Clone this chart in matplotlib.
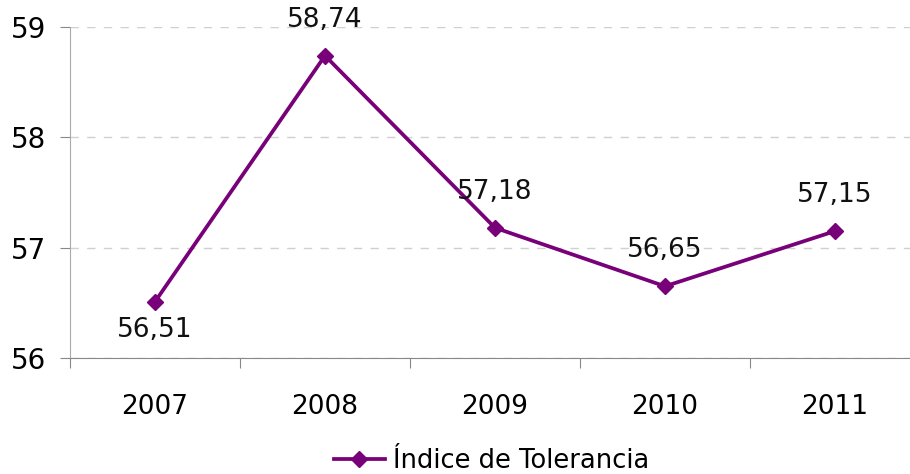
import matplotlib.pyplot as plt
from matplotlib.lines import Line2D

years = ['2007', '2008', '2009', '2010', '2011']
values = [56.51, 58.74, 57.18, 56.65, 57.15]
labels = ['56,51', '58,74', '57,18', '56,65', '57,15']
color = '#780078'

fig = plt.figure(figsize=(9.1, 4.74), dpi=100)
ax = fig.add_axes([70/910, 116/474, 850/910, 331/474])

x = list(range(len(years)))
ax.plot(x, values, color=color, lw=2.7, marker='D', markersize=8.5, zorder=3)

for i, (v, t) in enumerate(zip(values, labels)):
    dy = -20 if i == 0 else 26
    ax.annotate(t, (i, v), xytext=(0, dy), textcoords='offset points',
                ha='center', va='center', fontsize=19, color='#111111')

ax.set_xlim(-0.5, 4.5)
ax.set_ylim(56, 59)
ax.set_yticks([56, 57, 58, 59])
ax.set_xticks([-0.5, 0.5, 1.5, 2.5, 3.5, 4.5], minor=False)
ax.set_xticklabels([])
ax.set_xticks(x, minor=True)
ax.set_xticklabels(years, minor=True)
ax.tick_params(axis='x', which='minor', length=0, labelsize=19, pad=26)
ax.tick_params(axis='x', which='major', length=7, color='#888888', direction='out')
ax.tick_params(axis='y', labelsize=20, length=7, color='#888888', pad=10)

ax.grid(axis='y', color='#d0d0d0', ls=(0, (6, 6)), lw=1)
for s in ['top', 'right']:
    ax.spines[s].set_visible(False)
ax.spines['left'].set_color('#aaaaaa')
ax.spines['bottom'].set_color('#888888')

h = Line2D([], [], color=color, lw=2.7, marker='D', markersize=8.5)
fig.legend([h], ['Índice de Tolerancia'], loc='center', bbox_to_anchor=(0.54, 13/474),
           frameon=False, fontsize=18.5, handlelength=2.0, handletextpad=0.3)

fig.savefig('out.png', dpi=100)
